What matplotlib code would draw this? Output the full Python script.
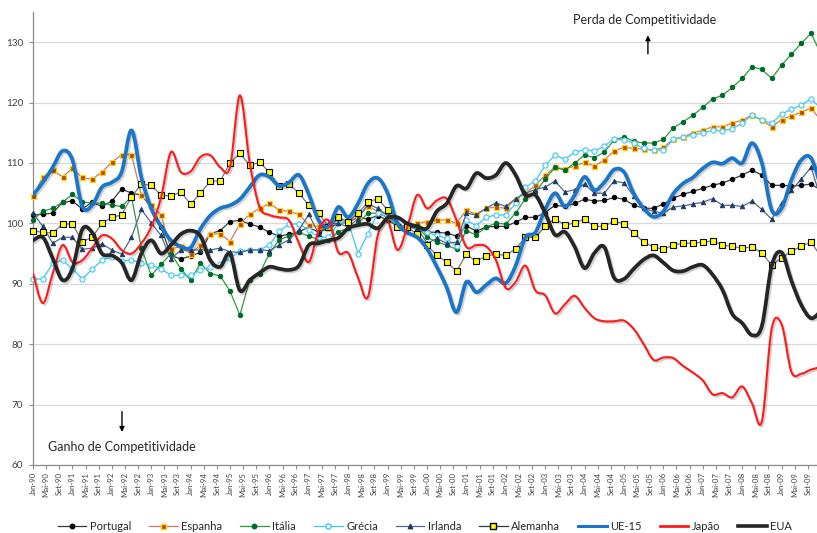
import numpy as np
import matplotlib
matplotlib.use("Agg")
import matplotlib.pyplot as plt
from matplotlib.path import Path
from matplotlib.patches import PathPatch
from matplotlib.lines import Line2D
import matplotlib.patheffects as pe

plt.rcParams['font.family'] = ['Lato', 'DejaVu Sans']

# ---------------- data (quarterly, Q1-1990 .. Q1-2010) ----------------
quarter_months = np.arange(81) * 3  # month offset from Jan-90

tick_months = np.arange(0, 240, 4)
tick_labels = [f"{m}-{y % 100:02d}" for y in range(1990, 2010) for m in ("Jan", "Mai", "Set")]

portugal = [101.4, 101.5, 101.7, 103.5, 103.7, 102.4, 103.5, 102.8, 103.7, 105.7, 105.0,
            104.7, 102.7, 99.4, 94.7, 94.1, 94.6, 95.2, 98.3, 98.8, 100.3,
            100.5, 99.9, 99.4, 98.5, 97.9, 98.2, 98.6, 99.4, 98.5, 99.2,
            100.0, 100.2, 101.0, 100.7, 101.3, 100.5, 99.6, 99.4, 99.2, 98.6,
            98.5, 98.4, 97.9, 99.6, 98.7, 99.4, 99.5, 99.5, 100.2, 101.0,
            101.0, 101.8, 103.0, 102.8, 103.3, 104.0, 103.7, 103.8, 104.3, 104.0,
            103.0, 102.5, 102.5, 103.2, 104.2, 104.8, 105.3, 105.8, 106.3, 106.7,
            107.3, 108.0, 108.8, 108.0, 106.3, 106.3, 106.2, 106.3, 106.5, 105.5]

espanha = [104.5, 107.7, 108.8, 107.7, 109.1, 107.6, 107.3, 108.5, 110.1, 111.4, 111.4,
           104.7, 103.0, 101.4, 95.7, 96.2, 95.0, 96.4, 98.2, 98.3, 97.0,
           99.9, 101.5, 102.5, 103.3, 102.2, 102.0, 101.5, 99.7, 99.5, 99.3,
           100.8, 100.0, 101.2, 102.8, 102.0, 101.4, 99.7, 99.3, 100.0, 100.3,
           100.5, 100.6, 100.0, 102.2, 101.5, 102.5, 102.7, 102.5, 104.1, 105.0,
           106.3, 108.0, 109.3, 109.0, 109.5, 110.1, 109.5, 110.5, 112.0, 112.6,
           112.4, 112.3, 112.1, 112.6, 113.9, 114.3, 115.0, 115.4, 116.0, 116.0,
           116.6, 117.1, 117.9, 117.1, 116.0, 117.2, 117.8, 118.4, 119.1, 117.0]

italia = [100.6, 102.0, 102.5, 103.5, 104.8, 103.6, 103.3, 103.4, 103.0, 102.8, 104.4,
          95.9, 91.4, 93.2, 95.0, 92.5, 90.6, 93.4, 91.7, 91.3, 88.8,
          84.8, 90.6, 91.7, 95.0, 97.3, 97.9, 98.5, 97.9, 97.3, 97.3,
          98.6, 99.2, 100.0, 101.7, 101.7, 101.0, 99.4, 99.2, 99.5, 97.7,
          96.9, 96.4, 95.7, 98.8, 98.1, 99.4, 100.0, 99.9, 101.7, 104.1,
          105.2, 107.3, 109.3, 108.8, 110.0, 111.3, 110.9, 111.8, 113.8, 114.3,
          113.6, 113.3, 113.3, 113.9, 115.8, 116.8, 117.9, 119.2, 120.6, 121.2,
          122.5, 124.0, 125.9, 125.5, 124.0, 126.2, 128.0, 129.8, 131.5, 128.0]

grecia = [90.8, 90.8, 93.4, 93.9, 92.5, 90.8, 92.4, 93.9, 94.4, 93.7, 94.0,
          93.4, 93.1, 92.5, 91.4, 91.4, 91.4, 92.3, 92.8, 93.2, 94.2,
          95.4, 95.6, 95.6, 96.4, 98.7, 99.9, 99.9, 98.9, 97.7, 97.7,
          100.0, 100.3, 95.0, 98.3, 101.7, 101.0, 99.9, 99.2, 99.2, 98.5,
          98.0, 97.5, 96.2, 100.5, 99.6, 101.0, 101.4, 101.4, 103.3, 106.0,
          107.0, 109.6, 111.3, 110.6, 111.8, 112.2, 112.0, 112.8, 114.0, 113.8,
          113.3, 112.4, 112.1, 112.1, 113.9, 114.3, 114.6, 115.0, 115.4, 115.3,
          115.7, 116.6, 117.9, 117.1, 116.6, 118.1, 118.9, 119.6, 120.6, 119.0]

irlanda = [101.7, 99.5, 96.7, 97.7, 97.7, 95.7, 95.9, 96.6, 95.6, 94.9, 97.7,
           102.3, 100.1, 98.0, 94.1, 95.6, 95.6, 95.6, 95.6, 95.9, 95.3,
           95.2, 95.6, 95.6, 95.5, 96.4, 97.3, 98.9, 101.5, 98.3, 99.9,
           100.0, 99.4, 100.8, 103.2, 102.5, 101.3, 100.0, 99.3, 99.3, 96.7,
           97.5, 96.7, 96.9, 101.7, 101.4, 102.5, 103.4, 102.8, 104.1, 105.0,
           105.6, 106.0, 107.0, 105.2, 105.6, 106.5, 105.0, 105.0, 107.0, 106.7,
           104.5, 102.5, 102.0, 101.7, 102.7, 102.9, 103.2, 103.5, 104.1, 103.0,
           103.0, 102.8, 103.7, 102.3, 100.7, 103.4, 105.5, 107.3, 109.3, 104.0]

alemanha = [98.8, 98.5, 98.4, 99.9, 99.9, 97.0, 97.7, 100.0, 101.0, 101.4, 104.4,
            106.5, 106.3, 104.7, 104.5, 105.2, 103.2, 105.0, 107.0, 107.0, 110.0,
            111.6, 109.6, 110.1, 108.5, 106.2, 106.5, 105.0, 103.0, 101.7, 99.4,
            101.0, 100.3, 101.7, 103.5, 104.1, 102.2, 99.4, 99.4, 98.2, 96.4,
            94.7, 93.6, 92.1, 94.9, 93.7, 94.6, 94.9, 94.7, 95.8, 97.7,
            97.7, 99.5, 100.8, 99.7, 100.1, 100.7, 99.5, 99.5, 100.4, 99.9,
            98.4, 96.9, 96.1, 95.7, 96.4, 96.7, 96.7, 96.9, 97.1, 96.4,
            96.2, 95.9, 96.1, 95.1, 93.1, 94.3, 95.4, 96.2, 96.9, 94.5]

ue15 = [104.7, 106.8, 109.3, 112.0, 110.5, 102.8, 103.0, 106.0, 106.8, 108.5, 115.4,
        107.6, 102.5, 99.5, 97.2, 96.2, 96.0, 99.1, 101.3, 102.5, 103.0,
        104.0, 106.0, 108.0, 107.7, 106.2, 106.8, 108.0, 104.8, 100.5, 99.5,
        102.7, 101.0, 103.3, 106.6, 107.5, 105.0, 100.0, 98.5, 97.7, 95.8,
        92.8, 89.4, 85.3, 90.3, 88.6, 89.8, 90.9, 90.1, 93.0, 97.7,
        98.5, 102.3, 105.0, 102.8, 104.7, 107.7, 105.5, 106.8, 108.9, 108.5,
        104.9, 102.5, 101.1, 102.0, 104.9, 106.6, 107.6, 109.1, 110.1, 109.9,
        110.8, 110.0, 113.3, 110.0, 102.2, 102.5, 107.2, 110.5, 110.8, 106.0]

japao = [91.7, 86.8, 91.7, 96.4, 93.6, 93.9, 95.9, 98.0, 97.5, 95.6, 95.0,
         96.7, 99.4, 104.3, 111.8, 108.5, 108.6, 111.0, 111.3, 109.3, 109.3,
         121.2, 110.0, 102.7, 101.4, 101.0, 100.5, 96.7, 93.6, 98.8, 100.5,
         95.2, 95.1, 91.0, 87.8, 98.0, 100.4, 95.6, 99.4, 104.7, 102.5,
         103.8, 104.1, 100.5, 96.1, 96.4, 96.2, 93.9, 89.3, 90.3, 93.0,
         88.9, 88.1, 85.1, 86.6, 88.0, 86.0, 84.3, 83.8, 83.8, 83.9,
         82.5, 80.0, 77.4, 77.8, 77.7, 76.4, 75.3, 74.0, 71.7, 71.9,
         71.2, 73.0, 70.2, 67.2, 82.6, 83.3, 75.4, 75.1, 75.8, 76.2]

eua = [97.2, 97.7, 94.2, 90.6, 92.5, 99.0, 98.5, 95.0, 94.7, 93.5, 90.6,
       95.0, 97.2, 95.0, 96.4, 98.2, 98.8, 97.9, 93.9, 92.8, 95.0,
       88.9, 90.6, 91.8, 92.8, 92.5, 92.3, 93.0, 96.4, 96.7, 97.2,
       97.6, 99.2, 99.7, 99.9, 99.2, 100.9, 101.0, 100.0, 99.5, 99.2,
       102.0, 103.3, 106.2, 105.8, 108.3, 107.5, 108.0, 110.0, 108.0, 104.7,
       104.7, 101.7, 98.1, 98.6, 96.1, 92.6, 95.1, 96.1, 91.0, 90.8,
       92.5, 94.0, 94.7, 93.5, 92.2, 92.1, 92.8, 93.1, 91.5, 89.0,
       85.0, 83.5, 81.5, 83.0, 93.0, 95.2, 90.5, 86.5, 84.3, 85.5]

# ---------------- figure ----------------
fig = plt.figure(figsize=(8.17, 5.33), dpi=100)
ax = fig.add_axes([0.0404, 0.1276, 0.9596, 0.8499])
ax.set_xlim(0, 238.8)
ax.set_ylim(60, 135)

ax.set_yticks(np.arange(60, 131, 10))
ax.yaxis.grid(True, color="#d9d9d9", lw=0.9)
ax.set_axisbelow(True)
for s in ("top", "right"):
    ax.spines[s].set_visible(False)
for s in ("left", "bottom"):
    ax.spines[s].set_color("#8c8c8c")
    ax.spines[s].set_linewidth(0.9)
ax.tick_params(axis="y", labelsize=7.2, colors="#8c8c8c", labelcolor="#404040", length=3, pad=4)
ax.set_xticks(tick_months)
ax.set_xticklabels(tick_labels, rotation=90, fontsize=5.6, color="#404040")
ax.tick_params(axis="x", colors="#8c8c8c", labelcolor="#404040", length=3, pad=2)

shadow = [pe.SimpleLineShadow(offset=(1.2, -1.2), shadow_color="#000000", alpha=0.18), pe.Normal()]

def marker_series(vals, lc, mk, mfc, mec, ms, lw=0.9, mew=0.7):
    ax.plot(quarter_months, vals, color=lc, lw=lw, marker=mk, ms=ms,
            mfc=mfc, mec=mec, mew=mew, clip_on=False, zorder=3)

marker_series(portugal, "#3a3a3a", "o", "#000000", "#000000", 3.2)
marker_series(espanha, "#c8786e", "s", "#b5472f", "#ffd400", 3.6, mew=0.9)
marker_series(italia, "#2e9a3c", "o", "#006a2a", "#006a2a", 3.2)
marker_series(grecia, "#3cc8f5", "o", "#ffffff", "#3cc8f5", 3.7, mew=0.8)
marker_series(irlanda, "#55688a", "^", "#1e3a66", "#1e3a66", 3.2)
marker_series(alemanha, "#7a7a7a", "s", "#ffff00", "#000000", 4.1, mew=0.8)


def smooth_path(x, y):
    pts = np.column_stack([x, y]).astype(float)
    n = len(pts)
    verts = [pts[0]]
    codes = [Path.MOVETO]
    for i in range(n - 1):
        p0 = pts[i - 1] if i > 0 else pts[i]
        p1 = pts[i]
        p2 = pts[i + 1]
        p3 = pts[i + 2] if i + 2 < n else pts[i + 1]
        c1 = p1 + (p2 - p0) / 6.0
        c2 = p2 - (p3 - p1) / 6.0
        verts += [c1, c2, p2]
        codes += [Path.CURVE4] * 3
    return Path(verts, codes)


def smooth_series(vals, color, lw, z):
    patch = PathPatch(smooth_path(quarter_months, vals), fill=False, edgecolor=color,
                      lw=lw, zorder=z, capstyle="round", joinstyle="round", clip_on=True)
    patch.set_path_effects(shadow)
    ax.add_patch(patch)

smooth_series(ue15, "#1b75c8", 2.7, 4)
smooth_series(japao, "#ff1a1a", 1.5, 4)
smooth_series(eua, "#262626", 2.7, 4)

# annotations
ax.annotate("", xy=(187.3, 131.6), xytext=(187.3, 127.6),
            arrowprops=dict(arrowstyle="-|>", color="black", lw=1.0, mutation_scale=7))
ax.text(186.4, 133.6, "Perda de Competitividade", ha="center", va="center", fontsize=9, color="#262626")
ax.annotate("", xy=(27.1, 65.0), xytext=(27.1, 69.3),
            arrowprops=dict(arrowstyle="-|>", color="black", lw=1.0, mutation_scale=7))
ax.text(27.1, 62.9, "Ganho de Competitividade", ha="center", va="center", fontsize=9, color="#262626")

# legend
handles = [
    Line2D([], [], color="#3a3a3a", lw=0.9, marker="o", ms=3.2, mfc="#000000", mec="#000000"),
    Line2D([], [], color="#c8786e", lw=0.9, marker="s", ms=3.6, mfc="#b5472f", mec="#ffd400"),
    Line2D([], [], color="#2e9a3c", lw=0.9, marker="o", ms=3.2, mfc="#006a2a", mec="#006a2a"),
    Line2D([], [], color="#3cc8f5", lw=0.9, marker="o", ms=3.7, mfc="#ffffff", mec="#3cc8f5"),
    Line2D([], [], color="#55688a", lw=0.9, marker="^", ms=3.2, mfc="#1e3a66", mec="#1e3a66"),
    Line2D([], [], color="#3a3a3a", lw=0.9, marker="s", ms=4.1, mfc="#ffff00", mec="#000000"),
    Line2D([], [], color="#1b75c8", lw=2.2),
    Line2D([], [], color="#ff1a1a", lw=2.0),
    Line2D([], [], color="#262626", lw=2.6),
]
names = ["Portugal", "Espanha", "Itália", "Grécia", "Irlanda", "Alemanha", "UE-15", "Japão", "EUA"]
fig.legend(handles, names, loc="center", bbox_to_anchor=(0.52, 0.013), ncol=9, frameon=False,
           fontsize=8, handlelength=2.6, handletextpad=0.3, columnspacing=1.6, labelcolor="#262626")

fig.savefig("out.png", dpi=100)
